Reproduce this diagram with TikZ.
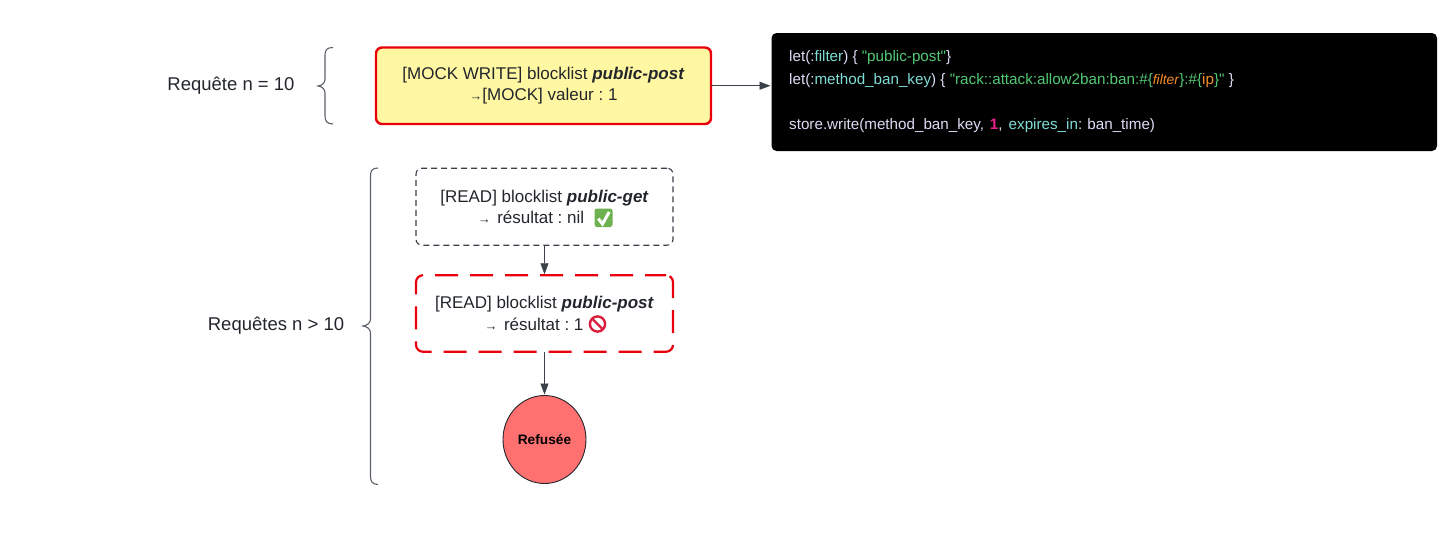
\documentclass[tikz,border=0pt]{standalone}
\usepackage{fontspec}
\setmainfont{Liberation Sans}
\newfontfamily\codefont{Liberation Sans}
\usetikzlibrary{arrows.meta,shapes.geometric}
\definecolor{ink}{HTML}{22262C}
\definecolor{edge}{HTML}{3A414A}
\definecolor{brace}{HTML}{5A6068}
\definecolor{alert}{HTML}{E8000D}
\definecolor{paper}{HTML}{FFF7A1}
\definecolor{deny}{HTML}{FF7070}
\definecolor{ctext}{HTML}{DCDCF5}
\definecolor{ccyan}{HTML}{7FDCD6}
\definecolor{cgreen}{HTML}{52C874}
\definecolor{corange}{HTML}{F28C28}
\definecolor{cpink}{HTML}{E91E8C}
\definecolor{okgreen}{HTML}{6DB150}
\definecolor{nored}{HTML}{D81E3C}
\newcommand{\mainsz}{\fontsize{17}{21.5}\selectfont}
\newcommand{\smarrow}{{\fontsize{13}{21.5}\selectfont →}}
\frenchspacing
\tikzset{
  x=1pt,y=-1pt,
  boxbase/.style={rectangle,align=center,text=ink,font=\mainsz,inner sep=0pt,outer sep=0pt,anchor=center},
  mockbox/.style={boxbase,draw=alert,line width=2.4pt,fill=paper,rounded corners=6pt,minimum width=335pt,minimum height=76.5pt},
  readbox/.style={boxbase,draw=edge,line width=1.1pt,dash pattern=on 6pt off 4pt,rounded corners=6pt,minimum width=257pt,minimum height=77pt},
  denybox/.style={boxbase,draw=alert,line width=2.2pt,dash pattern=on 23pt off 12pt,rounded corners=7pt,minimum width=257pt,minimum height=76.5pt},
  sidelabel/.style={text=ink,font=\fontsize{18.5}{22}\selectfont,inner sep=0pt},
  codebox/.style={rectangle,fill=black,rounded corners=5pt,minimum width=665.5pt,minimum height=118pt,inner sep=0pt,outer sep=0pt},
  codeline/.style={anchor=base west,font=\codefont\fontsize{15.2}{20}\selectfont,text=ctext,inner sep=0pt},
  link/.style={draw=edge,line width=0.8pt,-{Triangle[length=11pt,width=8pt]},shorten >=1pt},
  bracket/.style={draw=brace,line width=1.1pt},
}
\begin{document}
\begin{tikzpicture}
\useasboundingbox (0,0) rectangle (1456,538);
% boxes
\node[mockbox] (mock) at (543.5,85.75) {[MOCK WRITE] blocklist \textbf{\textit{public-post}}\\[0pt]\smarrow[MOCK] valeur : 1};
\node[codebox] (code) at (1104.25,92) {};
\node[readbox] (read) at (544.5,206.7) {[READ] blocklist \textbf{\textit{public-get}}\\[0pt]\smarrow\hspace{6.5pt}résultat : nil\hspace{27pt}\null};
\node[denybox,dash phase=2pt] (denied) at (544.5,313.5) {[READ] blocklist \textbf{\textit{public-post}}\\[0pt]\smarrow\hspace{6.5pt}résultat : 1\hspace{21pt}\null};
\node[ellipse,draw=ink,line width=0.9pt,fill=deny,minimum width=83pt,minimum height=88pt,inner sep=0pt,outer sep=0pt,font=\fontsize{13.7}{16}\selectfont\bfseries,text=black] (refused) at (544.5,439.5) {Refusée};
% connectors
\draw[link] (mock.east) -- (code.west |- mock.east);
\draw[link] (read.south) -- (denied.north);
\draw[link] (denied.south) -- (refused.north);
% side labels
\node[sidelabel] (l1) at (231,86) {Requête n = 10};
\node[sidelabel] (l2) at (276,326) {Requêtes n > 10};
% braces
\draw[bracket] (333,47.5) .. controls (327,47.5) and (325,50) .. (325,55) -- (325,79) .. controls (325,83) and (322,85.5) .. (318,86) .. controls (322,86.5) and (325,89) .. (325,93) -- (325,116) .. controls (325,121) and (327,124) .. (333,124);
\draw[bracket] (378,168) .. controls (372,168) and (370.5,171) .. (370.5,176) -- (370.5,319) .. controls (370.5,323) and (367,325.5) .. (363,326) .. controls (367,326.5) and (370.5,329) .. (370.5,333) -- (370.5,476) .. controls (370.5,481) and (372,484.5) .. (378,484.5);
% check emoji
\fill[okgreen,rounded corners=2.5pt] (594.5,208.5) rectangle (612.5,227);
\draw[white,line width=3pt] (598.3,218.6) -- (602.5,224) -- (609.2,212);
% prohibited emoji
\draw[nored,line width=2.4pt] (597.5,324) circle (7.6pt);
\draw[nored,line width=2.4pt] (592.1,318.6) -- (602.9,329.4);
% code
\node[codeline] (c1) at (789,61) {let(:\textcolor{ccyan}{filter}) \{ \textcolor{cgreen}{"public-post"}\}};
\node[codeline] (c2) at (789,84) {let(:\textcolor{ccyan}{method\_ban\_key}) \{ \textcolor{cgreen}{"rack::attack:allow2ban:ban:\#\{}\textcolor{corange}{\fontsize{13.8}{20}\selectfont\textit{filter}}\textcolor{cgreen}{\}:\#\{}\textcolor{corange}{ip}\textcolor{cgreen}{\}"} \}};
\node[codeline] (c3) at (789,129) {store.write(method\_ban\_key,\kern1.5pt{} \textcolor{cpink}{\textbf{1}}, \kern2pt\textcolor{ccyan}{expires\_in}: \kern1pt ban\_time)};
\end{tikzpicture}
\end{document}
